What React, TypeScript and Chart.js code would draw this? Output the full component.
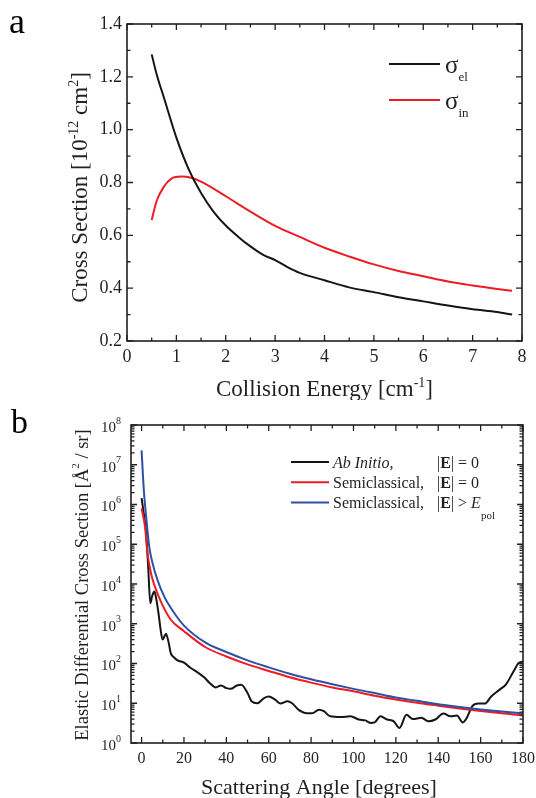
import React, { useEffect, useRef } from 'react';
import { Chart, registerables } from 'chart.js';

Chart.register(...registerables);

const FONT = '"Liberation Serif", "Times New Roman", Times, serif';
const INK = '#231f20';
const BLACK = '#151515';
const RED = '#ec1c24';
const BLUE = '#2e4fa3';

// ---------- Panel a : integral cross sections ----------
const energyEl = [0.5, 0.6, 0.75, 1.0, 1.25, 1.5, 1.75, 2.0, 2.25, 2.5, 2.75, 3.0, 3.25, 3.5, 4.0, 4.5, 5.0, 5.5, 6.0, 6.5, 7.0, 7.5, 7.8];
const sigmaEl = [1.285, 1.21, 1.12, 0.97, 0.85, 0.76, 0.69, 0.637, 0.595, 0.558, 0.527, 0.506, 0.48, 0.458, 0.43, 0.403, 0.385, 0.366, 0.35, 0.334, 0.32, 0.31, 0.3];
const energyIn = [0.5, 0.6, 0.75, 0.9, 1.1, 1.3, 1.5, 2.0, 2.5, 3.0, 3.5, 4.0, 4.5, 5.0, 5.5, 6.0, 6.5, 7.0, 7.5, 7.8];
const sigmaIn = [0.658, 0.73, 0.785, 0.815, 0.823, 0.818, 0.803, 0.748, 0.69, 0.636, 0.594, 0.553, 0.52, 0.49, 0.465, 0.445, 0.425, 0.41, 0.397, 0.39];
const aXTicks = [0, 1, 2, 3, 4, 5, 6, 7, 8];
const aYTicks = [0.2, 0.4, 0.6, 0.8, 1.0, 1.2, 1.4];

// ---------- Panel b : elastic differential cross sections ----------
const angleAb = [0, 1, 2, 3.1, 4.1, 5, 6, 7, 8, 9, 9.9, 11.5, 12.7, 13.8, 15.5, 17, 20, 23, 26.4, 29.5, 32, 35, 37.5, 40, 42, 45, 47, 50, 52, 54.6, 57.8, 60, 63, 65.6, 68.8, 71, 74, 78, 80.5, 83.7, 86, 89, 94, 98.6, 102.5, 105.6, 108, 110, 112.7, 115.9, 119, 121.7, 125, 128, 132, 135.5, 138.6, 142.5, 145.7, 148.8, 151.6, 153.5, 156, 159, 162, 165, 169, 172, 175.5, 177.9, 180];
const dcsAb = [1.45e6, 6e5, 2.3e5, 2.8e4, 3.3e3, 5e3, 6.5e3, 4e3, 1.8e3, 700, 400, 560, 350, 180, 140, 120, 105, 78, 60, 45, 33, 25, 28, 24, 23, 28, 29, 18, 11, 10, 13.5, 14.8, 12.3, 9.8, 11.2, 10, 6.9, 5.6, 5.6, 6.9, 6.3, 4.7, 4.5, 4.7, 3.9, 3.7, 3.2, 3.3, 4.7, 3.9, 3.5, 2.4, 5.1, 4.0, 4.3, 3.5, 3.9, 5.5, 4.7, 4.9, 3.3, 4.3, 8.3, 9.8, 9.8, 14.8, 22, 30, 63, 102, 112];

const angleSc0 = [0, 1.6, 2.8, 4.4, 6, 9.1, 13.8, 20, 30, 40, 50, 60, 70, 80, 90, 100, 110, 120, 130, 140, 150, 160, 170, 180];
const dcsSc0 = [8e5, 2.8e5, 5.9e4, 1.9e4, 9.5e3, 3.6e3, 1.26e3, 650, 260, 150, 95, 65, 45, 33, 25, 20, 15.5, 12.5, 10.3, 8.7, 7.4, 6.4, 5.6, 4.9];

const angleScE = [0, 1, 2, 3.6, 5.2, 7.5, 10.7, 15.4, 20, 30, 40, 50, 60, 70, 80, 90, 100, 110, 120, 130, 140, 150, 160, 170, 180];
const dcsScE = [2.3e7, 2.5e6, 6e5, 8.7e4, 3.3e4, 1.26e4, 4.8e3, 1.86e3, 900, 340, 195, 120, 80, 55, 40, 30, 23, 18, 14, 11.5, 9.5, 8.1, 7, 6.2, 5.6];

const bXTicks = [0, 20, 40, 60, 80, 100, 120, 140, 160, 180];
const bYTicks = [1, 10, 100, 1e3, 1e4, 1e5, 1e6, 1e7, 1e8];

const legendA = ['el', 'in'];
const legendB = ['Ab Initio,', 'Semiclassical,', 'Semiclassical,'];

type Seg = { t: string; size: number; dy?: number; style?: string; weight?: string };

function fontOf(s: Seg) {
  return `${s.style || 'normal'} ${s.weight || 'normal'} ${s.size}px ${FONT}`;
}
function segsWidth(ctx: CanvasRenderingContext2D, segs: Seg[]) {
  let w = 0;
  for (const s of segs) {
    ctx.font = fontOf(s);
    w += ctx.measureText(s.t).width;
  }
  return w;
}
function drawSegs(ctx: CanvasRenderingContext2D, segs: Seg[], x: number, y: number, align: 'left' | 'center' | 'right') {
  const w = segsWidth(ctx, segs);
  let cx = align === 'left' ? x : align === 'center' ? x - w / 2 : x - w;
  ctx.textAlign = 'left';
  for (const s of segs) {
    ctx.font = fontOf(s);
    ctx.fillText(s.t, cx, y + (s.dy || 0));
    cx += ctx.measureText(s.t).width;
  }
}

function pts(xs: number[], ys: number[]) {
  return xs.map((x, i) => ({ x, y: ys[i] }));
}

function drawFrame(chart: any, xMajor: number[], xMinor: number[], yMajor: number[], yMinor: number[]) {
  const ctx: CanvasRenderingContext2D = chart.ctx;
  const { left, right, top, bottom } = chart.chartArea;
  const xs = chart.scales.x;
  const ys = chart.scales.y;
  const MAJ = 6;
  const MIN = 3.5;
  ctx.save();
  ctx.strokeStyle = INK;
  ctx.lineWidth = 1.3;
  ctx.beginPath();
  for (const v of xMajor) {
    const p = xs.getPixelForValue(v);
    ctx.moveTo(p, bottom); ctx.lineTo(p, bottom - MAJ);
    ctx.moveTo(p, top); ctx.lineTo(p, top + MAJ);
  }
  for (const v of xMinor) {
    const p = xs.getPixelForValue(v);
    ctx.moveTo(p, bottom); ctx.lineTo(p, bottom - MIN);
    ctx.moveTo(p, top); ctx.lineTo(p, top + MIN);
  }
  for (const v of yMajor) {
    const p = ys.getPixelForValue(v);
    ctx.moveTo(left, p); ctx.lineTo(left + MAJ, p);
    ctx.moveTo(right, p); ctx.lineTo(right - MAJ, p);
  }
  for (const v of yMinor) {
    const p = ys.getPixelForValue(v);
    ctx.moveTo(left, p); ctx.lineTo(left + MIN, p);
    ctx.moveTo(right, p); ctx.lineTo(right - MIN, p);
  }
  ctx.stroke();
  ctx.lineWidth = 1.6;
  ctx.strokeRect(left, top, right - left, bottom - top);
  ctx.restore();
}

const panelAPlugin = {
  id: 'panelA',
  afterDraw(chart: any) {
    const ctx: CanvasRenderingContext2D = chart.ctx;
    const { left, right, top, bottom } = chart.chartArea;
    const xs = chart.scales.x;
    const ys = chart.scales.y;
    const xMinor = aXTicks.slice(0, -1).map((v, i) => (v + aXTicks[i + 1]) / 2);
    const yMinor = aYTicks.slice(0, -1).map((v, i) => (v + aYTicks[i + 1]) / 2);
    drawFrame(chart, aXTicks, xMinor, aYTicks, yMinor);
    ctx.save();
    ctx.fillStyle = INK;
    ctx.textBaseline = 'middle';
    ctx.font = `18px ${FONT}`;
    ctx.textAlign = 'right';
    for (const v of aYTicks) ctx.fillText(v.toFixed(1), left - 5, ys.getPixelForValue(v));
    ctx.textAlign = 'center';
    for (const v of aXTicks) ctx.fillText(String(v), xs.getPixelForValue(v), bottom + 16);
    ctx.textBaseline = 'alphabetic';
    // x title
    drawSegs(ctx, [
      { t: 'Collision Energy [cm', size: 23 },
      { t: '-1', size: 14, dy: -9 },
      { t: ']', size: 23 },
    ], (left + right) / 2 + 0, bottom + 55, 'center');
    // y title
    ctx.save();
    ctx.translate(left - 40, (top + bottom) / 2 + 5);
    ctx.rotate(-Math.PI / 2);
    drawSegs(ctx, [
      { t: 'Cross Section [10', size: 23 },
      { t: '-12', size: 14, dy: -9 },
      { t: ' cm', size: 23 },
      { t: '2', size: 14, dy: -9 },
      { t: ']', size: 23 },
    ], 0, 0, 'center');
    ctx.restore();
    // panel letter
    ctx.font = `36px ${FONT}`;
    ctx.textAlign = 'left';
    ctx.fillStyle = '#000';
    ctx.fillText('a', 9, 33);
    // legend
    const colors = [BLACK, RED];
    legendA.forEach((sub, i) => {
      const y = 64 + i * 36;
      ctx.strokeStyle = colors[i];
      ctx.lineWidth = 2;
      ctx.beginPath();
      ctx.moveTo(389, y);
      ctx.lineTo(440, y);
      ctx.stroke();
      ctx.fillStyle = INK;
      drawSegs(ctx, [
        { t: 'σ', size: 25, dy: 0 },
        { t: sub, size: 13, dy: 8 },
      ], 445, y + 9, 'left');
    });
    ctx.restore();
  },
};

const panelBPlugin = {
  id: 'panelB',
  afterDraw(chart: any) {
    const ctx: CanvasRenderingContext2D = chart.ctx;
    const { left, right, top, bottom } = chart.chartArea;
    const xs = chart.scales.x;
    const ys = chart.scales.y;
    const xMinor = bXTicks.slice(0, -1).map((v, i) => (v + bXTicks[i + 1]) / 2);
    const yMinor: number[] = [];
    bYTicks.slice(0, -1).forEach((d) => {
      for (let k = 2; k <= 9; k++) yMinor.push(k * d);
    });
    drawFrame(chart, bXTicks, xMinor, bYTicks, yMinor);
    ctx.save();
    ctx.fillStyle = INK;
    ctx.textBaseline = 'middle';
    for (const v of bYTicks) {
      const e = Math.round(Math.log10(v));
      drawSegs(ctx, [
        { t: '10', size: 15 },
        { t: String(e), size: 10, dy: -7 },
      ], left - 10, ys.getPixelForValue(v) + 3, 'right');
    }
    ctx.font = `16px ${FONT}`;
    ctx.textAlign = 'center';
    for (const v of bXTicks) ctx.fillText(String(v), xs.getPixelForValue(v), bottom + 16);
    ctx.textBaseline = 'alphabetic';
    // x title
    drawSegs(ctx, [{ t: 'Scattering Angle [degrees]', size: 22 }], 319, bottom + 51, 'center');
    // y title
    ctx.save();
    ctx.translate(left - 43, (top + bottom) / 2 + 1);
    ctx.rotate(-Math.PI / 2);
    drawSegs(ctx, [
      { t: 'Elastic Differential Cross Section [Å', size: 18.5 },
      { t: '2', size: 11, dy: -9 },
      { t: ' / sr]', size: 18.5 },
    ], 0, 0, 'center');
    ctx.restore();
    // panel letter
    ctx.font = `34px ${FONT}`;
    ctx.textAlign = 'left';
    ctx.fillStyle = '#000';
    ctx.fillText('b', 11, 33);
    // legend
    const colors = [BLACK, RED, BLUE];
    legendB.forEach((lab, i) => {
      const y = 62 + i * 20.3;
      ctx.strokeStyle = colors[i];
      ctx.lineWidth = 2;
      ctx.beginPath();
      ctx.moveTo(291, y);
      ctx.lineTo(329, y);
      ctx.stroke();
      ctx.fillStyle = INK;
      drawSegs(ctx, [{ t: lab, size: 16, style: i === 0 ? 'italic' : 'normal' }], 333, y + 5.5, 'left');
      const tail: Seg[] = [
        { t: '|', size: 16 },
        { t: 'E', size: 16, weight: 'bold' },
        { t: i === 2 ? '| > ' : '| = 0', size: 16 },
      ];
      if (i === 2) {
        tail.push({ t: 'E', size: 16, style: 'italic' });
        tail.push({ t: 'pol', size: 11, dy: 11 });
      }
      drawSegs(ctx, tail, 437, y + 5.5, 'left');
    });
    ctx.restore();
  },
};

function lineDs(label: string, data: any[], color: string, width = 2) {
  return {
    label,
    data,
    borderColor: color,
    backgroundColor: color,
    borderWidth: width,
    pointRadius: 0,
    fill: false,
    cubicInterpolationMode: 'monotone' as const,
  };
}

export default function App() {
  const refA = useRef<HTMLCanvasElement>(null);
  const refB = useRef<HTMLCanvasElement>(null);

  useEffect(() => {
    const chartA = new Chart(refA.current!, {
      type: 'line',
      data: {
        datasets: [
          lineDs('σel', pts(energyEl, sigmaEl), BLACK),
          lineDs('σin', pts(energyIn, sigmaIn), RED),
        ],
      },
      options: {
        responsive: false,
        maintainAspectRatio: false,
        animation: false,
        devicePixelRatio: 1,
        layout: { padding: { left: 127, right: 14, top: 24, bottom: 59 } },
        plugins: { legend: { display: false }, tooltip: { enabled: false } },
        scales: {
          x: { type: 'linear', min: 0, max: 8, display: false },
          y: { type: 'linear', min: 0.2, max: 1.4, display: false },
        },
      } as any,
      plugins: [panelAPlugin],
    });

    const chartB = new Chart(refB.current!, {
      type: 'line',
      data: {
        datasets: [
          lineDs('Semiclassical |E| > Epol', pts(angleScE, dcsScE), BLUE),
          lineDs('Semiclassical |E| = 0', pts(angleSc0, dcsSc0), RED),
          lineDs('Ab Initio |E| = 0', pts(angleAb, dcsAb), BLACK),
        ],
      },
      options: {
        responsive: false,
        maintainAspectRatio: false,
        animation: false,
        devicePixelRatio: 1,
        layout: { padding: { left: 131, right: 13, top: 25, bottom: 55 } },
        plugins: { legend: { display: false }, tooltip: { enabled: false } },
        scales: {
          x: { type: 'linear', min: -5, max: 180, display: false },
          y: { type: 'logarithmic', min: 1, max: 1e8, display: false },
        },
      } as any,
      plugins: [panelBPlugin],
    });

    return () => {
      chartA.destroy();
      chartB.destroy();
    };
  }, []);

  return (
    <div style={{ position: 'absolute', left: 0, top: 0, width: 536, height: 798, background: '#fff' }}>
      <canvas ref={refA} width={536} height={400} style={{ display: 'block', width: 536, height: 400 }} />
      <canvas ref={refB} width={536} height={398} style={{ display: 'block', width: 536, height: 398 }} />
    </div>
  );
}
